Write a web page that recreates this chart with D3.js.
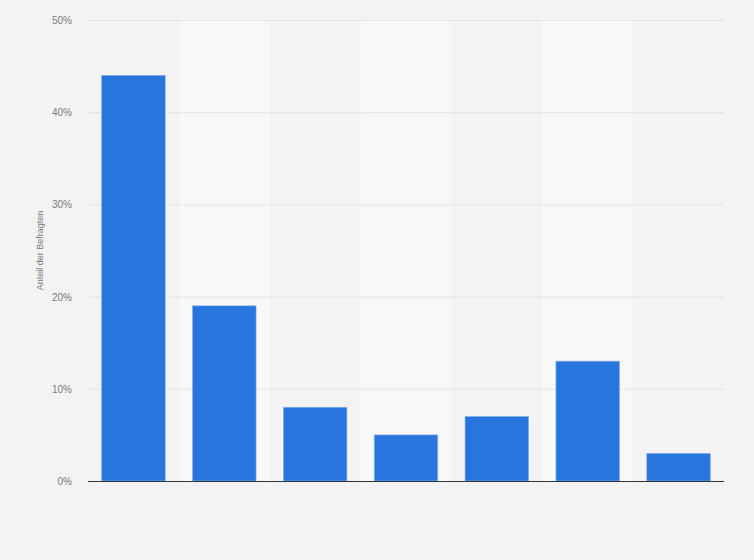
<!DOCTYPE html>
<html>
<head>
<meta charset="utf-8">
<script src="https://cdn.jsdelivr.net/npm/d3@7"></script>
<style>
  body { margin: 0; background: #f3f3f3; }
  #chart { width: 754px; height: 560px; }
  text { font-family: "Liberation Sans", Arial, sans-serif; }
</style>
</head>
<body>
<div id="chart"></div>
<script>
// categories have no visible labels in the source
const categories = ["A", "B", "C", "D", "E", "F", "G"]
const values = [44, 19, 8, 5, 7, 13, 3]
const yTicks = [0, 10, 20, 30, 40, 50]
const yTitle = "Anteil der Befragten"

const width = 754
const height = 560
const margin = {top: 20, right: 30, bottom: 79, left: 88}

const svg = d3.select("#chart").append("svg")
    .attr("width", width)
    .attr("height", height)

svg.append("rect").attr("width", width).attr("height", height).attr("fill", "#f3f3f3")

const x = d3.scaleBand()
    .domain(categories)
    .range([margin.left, width - margin.right])
    .paddingInner(0.3)
    .paddingOuter(0.15)

const xBand = d3.scaleBand()
    .domain(categories)
    .range([margin.left, width - margin.right])

const y = d3.scaleLinear()
    .domain([0, 50])
    .range([height - margin.bottom, margin.top])

// alternating column shading
svg.selectAll(".stripe")
    .data(categories.filter((d, i) => i % 2 == 1))
    .enter().append("rect")
    .attr("class", "stripe")
    .attr("x", d => xBand(d))
    .attr("y", margin.top)
    .attr("width", xBand.bandwidth())
    .attr("height", y(0) - margin.top)
    .attr("fill", "#f8f8f8")

// grid
svg.selectAll(".grid")
    .data(yTicks.filter(d => d > 0))
    .enter().append("line")
    .attr("class", "grid")
    .attr("x1", margin.left)
    .attr("x2", width - margin.right)
    .attr("y1", d => y(d) + 0.5)
    .attr("y2", d => y(d) + 0.5)
    .attr("stroke", "#d2d2d2")
    .attr("stroke-width", 1)
    .attr("stroke-dasharray", "1,1")

// y tick labels
svg.selectAll(".ytick")
    .data(yTicks)
    .enter().append("text")
    .attr("class", "ytick")
    .attr("x", 72)
    .attr("y", d => y(d) + 4)
    .attr("text-anchor", "end")
    .attr("font-size", 10)
    .attr("fill", "#7a7a7a")
    .text(d => d + "%")

svg.append("text")
    .attr("transform", `translate(43, ${(margin.top + y(0)) / 2}) rotate(-90)`)
    .attr("text-anchor", "middle")
    .attr("font-size", 9)
    .attr("fill", "#7a7a7a")
    .text(yTitle)

// bars
svg.selectAll(".bar")
    .data(values)
    .enter().append("rect")
    .attr("class", "bar")
    .attr("x", (d, i) => x(categories[i]))
    .attr("y", d => y(d))
    .attr("width", x.bandwidth())
    .attr("height", d => y(0) - y(d))
    .attr("fill", "#2876dd")
    .attr("stroke", "#8fb5ec")
    .attr("stroke-width", 0.6)

// baseline
svg.append("line")
    .attr("x1", margin.left)
    .attr("x2", width - margin.right)
    .attr("y1", y(0) + 0.5)
    .attr("y2", y(0) + 0.5)
    .attr("stroke", "#333")
    .attr("stroke-width", 1)
</script>
</body>
</html>
